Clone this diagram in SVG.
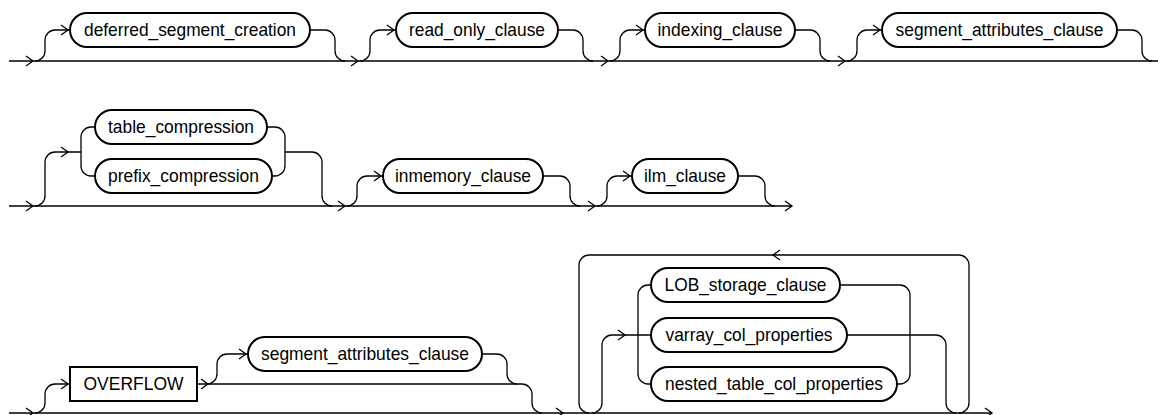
<svg xmlns="http://www.w3.org/2000/svg" xmlns:xlink="http://www.w3.org/1999/xlink" width="1158" height="415" viewBox="0 0 1158 415">
<style>
.n{fill:#fff;stroke:#000;stroke-width:2}
.t{font-family:"Liberation Sans",Arial,sans-serif;font-size:18.2px;fill:#000;text-anchor:middle}
.c path,.c use{fill:none;stroke:#000;stroke-width:1.3}
</style>
<defs>
<path id="ar" d="M-7,-5 L0,0 L-7,5" fill="none" stroke="#000" stroke-width="1.3"/>
<path id="al" d="M7,-5 L0,0 L7,5" fill="none" stroke="#000" stroke-width="1.3"/>
</defs>
<g id="connectors" class="c">
<!-- row 1 -->
<path d="M9,61 H1158"/>
<path d="M35,61 A10 10 0 0 0 45,51 V40 A10 10 0 0 1 55,30 H70"/>
<path d="M310,30 H325 A10 10 0 0 1 335,40 V51 A10 10 0 0 0 345,61"/>
<path d="M360,61 A10 10 0 0 0 370,51 V40 A10 10 0 0 1 380,30 H396"/>
<path d="M558,30 H573 A10 10 0 0 1 583,40 V51 A10 10 0 0 0 593,61"/>
<path d="M610,61 A10 10 0 0 0 620,51 V40 A10 10 0 0 1 630,30 H645"/>
<path d="M795,30 H810 A10 10 0 0 1 820,40 V51 A10 10 0 0 0 830,61"/>
<path d="M847,61 A10 10 0 0 0 857,51 V40 A10 10 0 0 1 867,30 H882"/>
<path d="M1117,30 H1132 A10 10 0 0 1 1142,40 V51 A10 10 0 0 0 1152,61"/>
<use href="#ar" x="33" y="61"/><use href="#ar" x="68" y="30"/>
<use href="#ar" x="358" y="61"/><use href="#ar" x="394" y="30"/>
<use href="#ar" x="608" y="61"/><use href="#ar" x="643" y="30"/>
<use href="#ar" x="845" y="61"/><use href="#ar" x="880" y="30"/>
<!-- row 2 -->
<path d="M9,206 H792"/>
<path d="M35,206 A10 10 0 0 0 45,196 V162 A10 10 0 0 1 55,152 H81"/>
<path d="M95,127 H91 A10 10 0 0 0 81,137 V166 A10 10 0 0 0 91,176 H95"/>
<path d="M267,127 H275 A10 10 0 0 1 285,137 V166 A10 10 0 0 1 275,176 H272"/>
<path d="M285,152 H312 A10 10 0 0 1 322,162 V196 A10 10 0 0 0 332,206"/>
<path d="M347,206 A10 10 0 0 0 357,196 V186 A10 10 0 0 1 367,176 H383"/>
<path d="M543,176 H560 A10 10 0 0 1 570,186 V196 A10 10 0 0 0 580,206"/>
<path d="M597,206 A10 10 0 0 0 607,196 V186 A10 10 0 0 1 617,176 H632"/>
<path d="M738,176 H755 A10 10 0 0 1 765,186 V196 A10 10 0 0 0 775,206"/>
<use href="#ar" x="33" y="206"/><use href="#ar" x="68" y="152"/>
<use href="#ar" x="345" y="206"/><use href="#ar" x="381" y="176"/>
<use href="#ar" x="595" y="206"/><use href="#ar" x="630" y="176"/>
<use href="#ar" x="792" y="206"/>
<!-- row 3 -->
<path d="M9,413 H992"/>
<path d="M35,413 A10 10 0 0 0 45,403 V394 A10 10 0 0 1 55,384 H70"/>
<path d="M197,384 H522 A10 10 0 0 1 532,394 V403 A10 10 0 0 0 542,413"/>
<path d="M207,384 A10 10 0 0 0 217,374 V364 A10 10 0 0 1 227,354 H248"/>
<path d="M482,354 H497 A10 10 0 0 1 507,364 V374 A10 10 0 0 0 517,384"/>
<path d="M959,413 A10 10 0 0 0 969,403 V265 A10 10 0 0 0 959,255 H589 A10 10 0 0 0 579,265 V403 A10 10 0 0 0 589,413"/>
<path d="M592,413 A10 10 0 0 0 602,403 V345 A10 10 0 0 1 612,335 H651"/>
<path d="M651,285 H648 A10 10 0 0 0 638,295 V374 A10 10 0 0 0 648,384 H651"/>
<path d="M840,285 H900 A10 10 0 0 1 910,295 V374 A10 10 0 0 1 900,384 H897"/>
<path d="M847,335 H936 A10 10 0 0 1 946,345 V403 A10 10 0 0 0 956,413"/>
<use href="#ar" x="33" y="413"/><use href="#ar" x="68" y="384"/>
<use href="#ar" x="208" y="384"/><use href="#ar" x="246" y="354"/>
<use href="#ar" x="563" y="413"/><use href="#ar" x="625" y="335"/>
<use href="#al" x="773" y="255"/>
<use href="#ar" x="992" y="413"/>
</g>
<g id="n-deferred"><rect class="n" x="70" y="13" width="240" height="34" rx="17"/><text class="t" x="190" y="36" textLength="212" lengthAdjust="spacingAndGlyphs">deferred_segment_creation</text></g>
<g id="n-readonly"><rect class="n" x="396" y="13" width="162" height="34" rx="17"/><text class="t" x="477" y="36" textLength="136" lengthAdjust="spacingAndGlyphs">read_only_clause</text></g>
<g id="n-indexing"><rect class="n" x="645" y="13" width="150" height="34" rx="17"/><text class="t" x="720" y="36" textLength="125" lengthAdjust="spacingAndGlyphs">indexing_clause</text></g>
<g id="n-segattr1"><rect class="n" x="882" y="13" width="235" height="34" rx="17"/><text class="t" x="999.5" y="36" textLength="208" lengthAdjust="spacingAndGlyphs">segment_attributes_clause</text></g>
<g id="n-tablecomp"><rect class="n" x="95" y="110" width="172" height="34" rx="17"/><text class="t" x="181" y="133" textLength="146" lengthAdjust="spacingAndGlyphs">table_compression</text></g>
<g id="n-prefixcomp"><rect class="n" x="95" y="159" width="177" height="34" rx="17"/><text class="t" x="183.5" y="182" textLength="151" lengthAdjust="spacingAndGlyphs">prefix_compression</text></g>
<g id="n-inmemory"><rect class="n" x="383" y="159" width="160" height="34" rx="17"/><text class="t" x="463" y="182" textLength="136" lengthAdjust="spacingAndGlyphs">inmemory_clause</text></g>
<g id="n-ilm"><rect class="n" x="632" y="159" width="106" height="34" rx="17"/><text class="t" x="685" y="182" textLength="82" lengthAdjust="spacingAndGlyphs">ilm_clause</text></g>
<g id="n-overflow"><rect class="n" x="70" y="367" width="127" height="34"/><text class="t" x="133.5" y="390" textLength="100" lengthAdjust="spacingAndGlyphs">OVERFLOW</text></g>
<g id="n-segattr2"><rect class="n" x="248" y="337" width="234" height="34" rx="17"/><text class="t" x="365" y="360" textLength="208" lengthAdjust="spacingAndGlyphs">segment_attributes_clause</text></g>
<g id="n-lob"><rect class="n" x="651" y="268" width="189" height="34" rx="17"/><text class="t" x="745.5" y="291" textLength="162" lengthAdjust="spacingAndGlyphs">LOB_storage_clause</text></g>
<g id="n-varray"><rect class="n" x="651" y="318" width="196" height="34" rx="17"/><text class="t" x="749" y="341" textLength="167" lengthAdjust="spacingAndGlyphs">varray_col_properties</text></g>
<g id="n-nested"><rect class="n" x="651" y="367" width="246" height="34" rx="17"/><text class="t" x="774" y="390" textLength="218" lengthAdjust="spacingAndGlyphs">nested_table_col_properties</text></g>
</svg>
